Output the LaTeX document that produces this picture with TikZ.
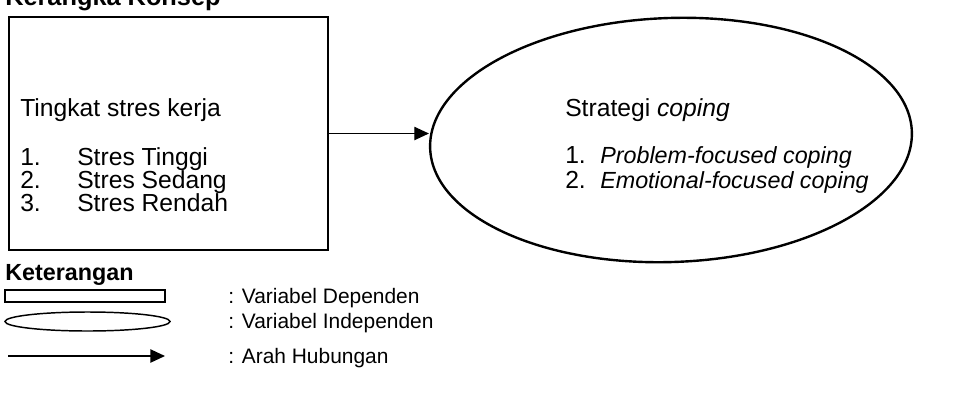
\documentclass[tikz,border=0pt]{standalone}
\usepackage{fontspec}
\setmainfont{Liberation Sans}
\usetikzlibrary{shapes.geometric}
\usetikzlibrary{arrows.meta}

\begin{document}
\begin{tikzpicture}[x=0.75pt,y=-0.75pt]
    \tikzstyle{txt}=[inner sep=0,anchor=base west,font=\fontsize{18.5}{24}\selectfont]
    \tikzstyle{item}=[txt,font=\fontsize{17.5}{22}\selectfont\itshape]
    \tikzstyle{small}=[txt,font=\fontsize{15.7}{20}\selectfont]
    \tikzstyle{head}=[txt,font=\fontsize{17.5}{22}\selectfont\bfseries]
    \tikzstyle{varbox}=[draw,line width=1.8pt,minimum width=239.25pt,minimum height=174.75pt]
    \tikzstyle{varell}=[draw,ellipse,line width=1.8pt,minimum width=361.5pt,minimum height=183pt]
    \tikzstyle{link}=[line width=1pt,-{Triangle[length=11pt,width=10pt]}]
    \useasboundingbox (0,0) rectangle (961,394);
    \node[head,font=\fontsize{19}{22}\selectfont\bfseries] (judul) at (5,5) {Kerangka Konsep};
    % variabel kiri
    \node[varbox] (stres) at (168.5,133.5) {};
    \node[txt] (tingkat) at (20,116) {Tingkat stres kerja};
    \node[txt] (n1) at (20,165) {1.};
    \node[txt] (s1) at (77,165) {Stres Tinggi};
    \node[txt] (n2) at (20,188) {2.};
    \node[txt] (s2) at (77,188) {Stres Sedang};
    \node[txt] (n3) at (20,211) {3.};
    \node[txt] (s3) at (77,211) {Stres Rendah};
    % variabel kanan
    \node[varell,rotate=2] (coping) at (671,140) {};
    \node[txt] (strategi) at (565,116) {Strategi \textit{coping}};
    \node[txt] (m1) at (565,163) {1.};
    \node[item] (c1) at (600,163) {Problem-focused coping};
    \node[txt] (m2) at (565,188) {2.};
    \node[item] (c2) at (600,188) {Emotional-focused coping};
    \draw[link] (stres.east) -- (stres.east -| coping.west);
    % keterangan
    \node[head] (ket) at (5,280) {Keterangan};
    \node[draw,line width=1.1pt,minimum width=120pt,minimum height=9pt] (kbox) at (85,296) {};
    \node[draw,ellipse,line width=1.1pt,minimum width=123.75pt,minimum height=14.25pt] (kell) at (87.5,321.5) {};
    \coordinate (ka) at (8,356);
    \coordinate (kb) at (165,356);
    \draw[link] (ka) -- (kb);
    \node[small] (l1) at (228,303) {: Variabel Dependen};
    \node[small] (l2) at (228,328) {: Variabel Independen};
    \node[small] (l3) at (228,363) {: Arah Hubungan};
\end{tikzpicture}
\end{document}
